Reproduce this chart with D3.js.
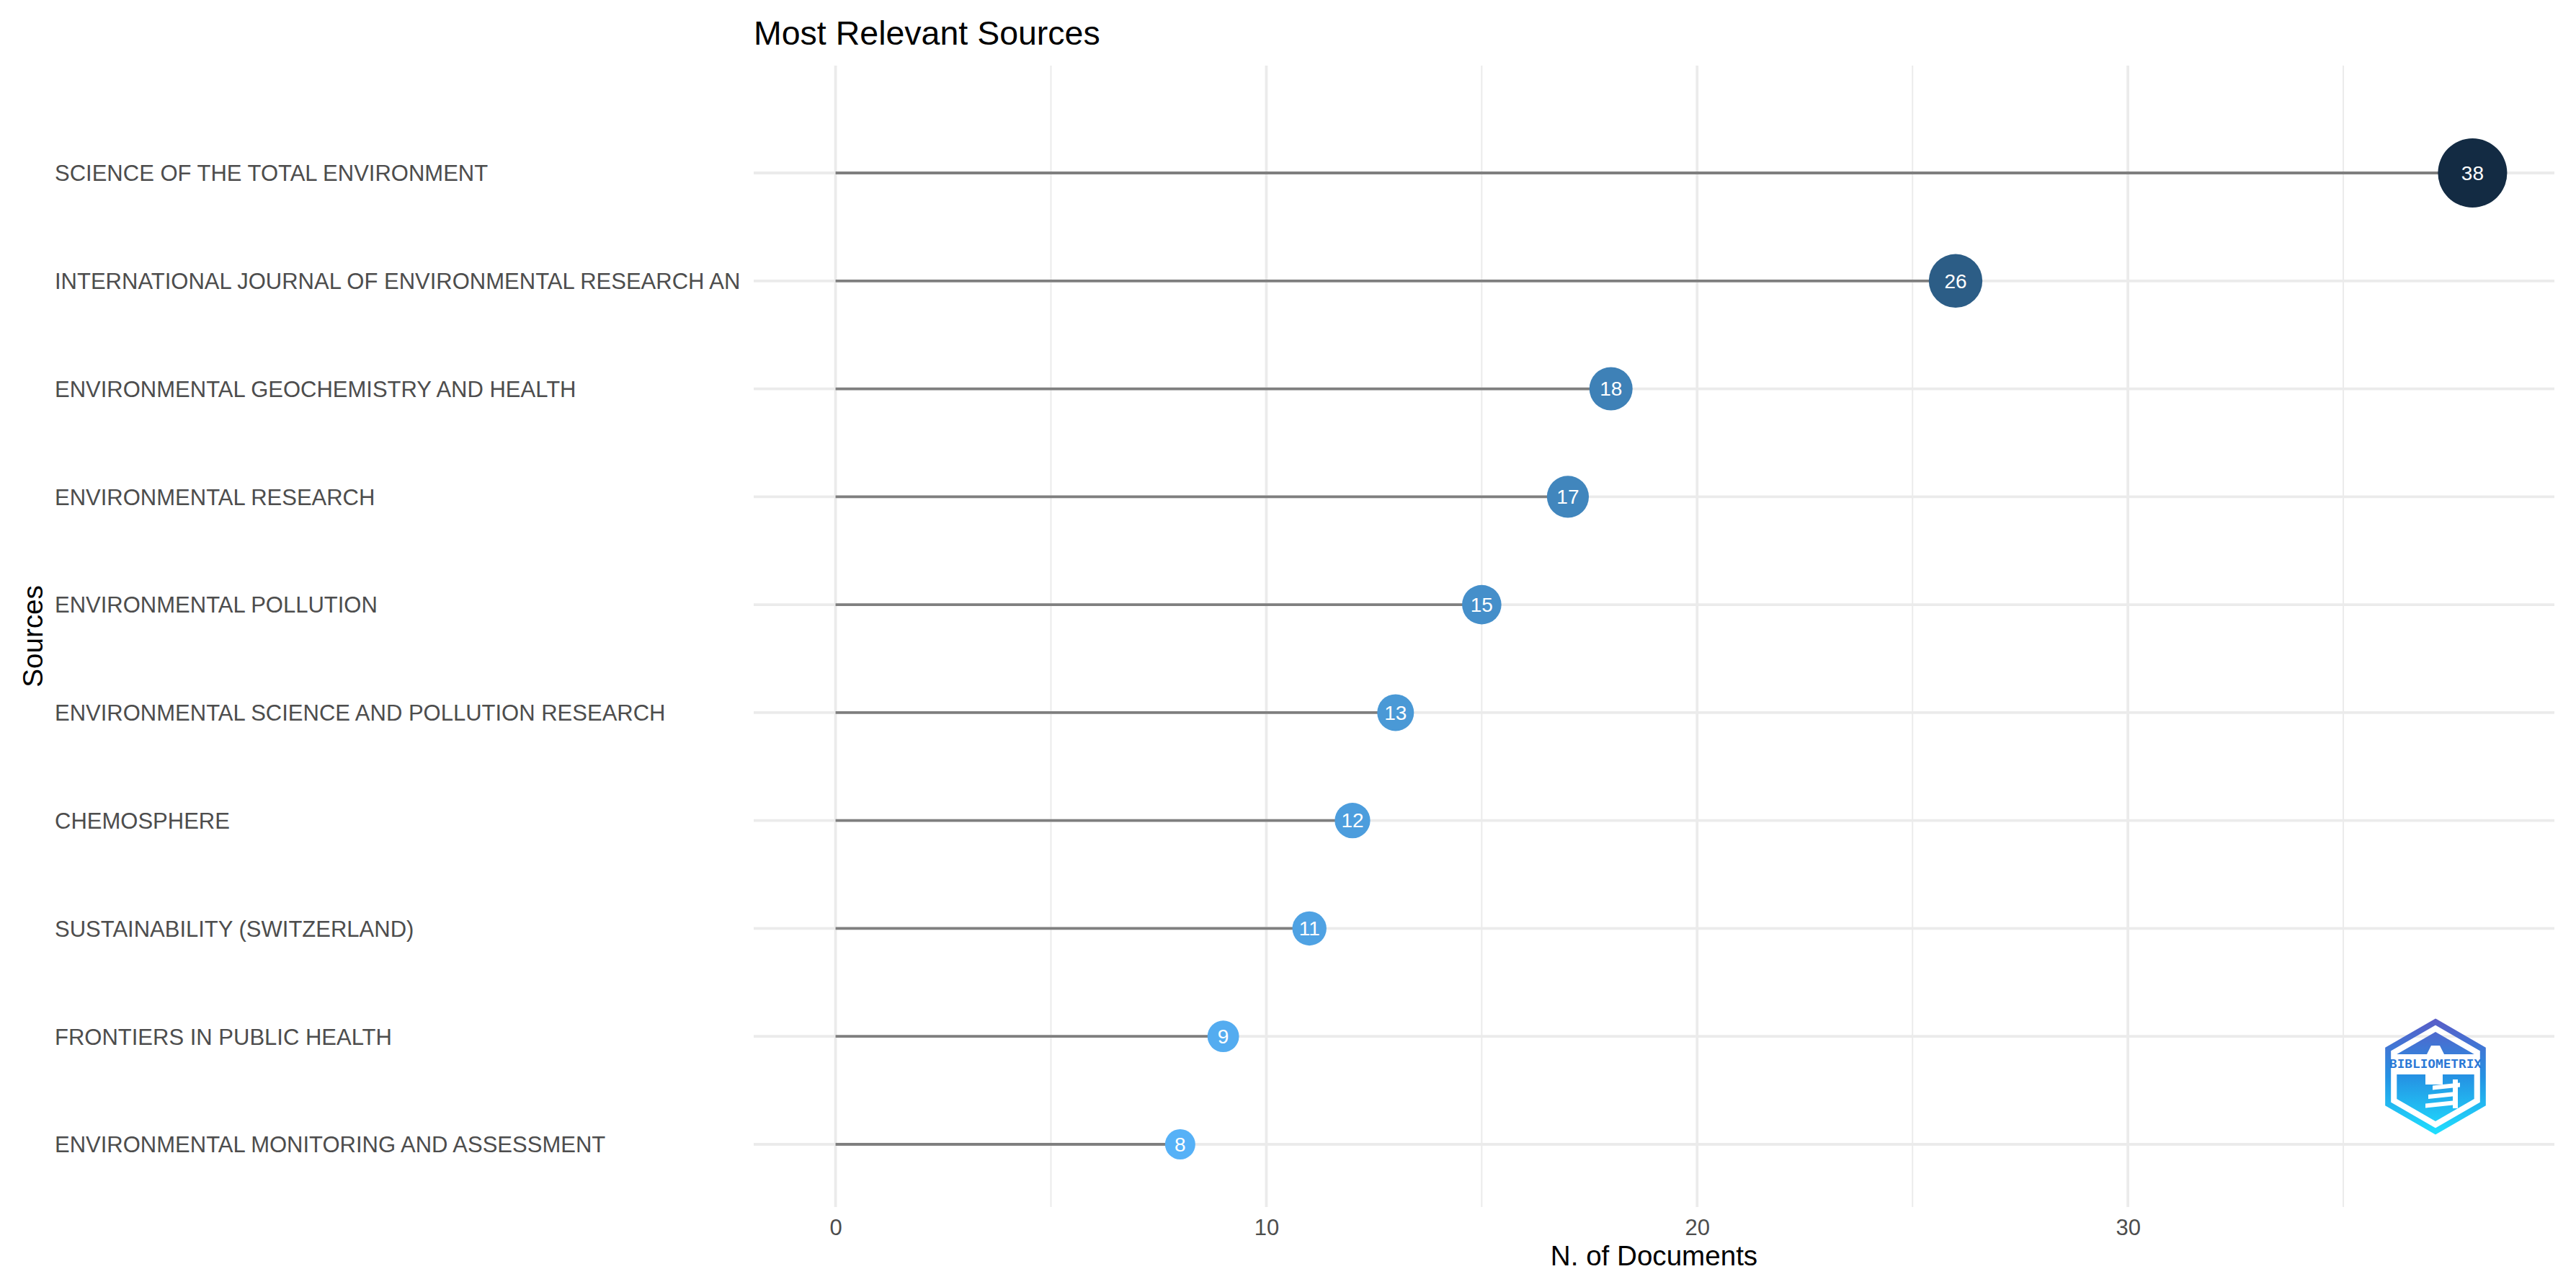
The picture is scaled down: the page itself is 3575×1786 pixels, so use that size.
<!DOCTYPE html>
<html>
<head>
<meta charset="utf-8">
<script src="https://cdn.jsdelivr.net/npm/d3@7"></script>
<style>
  html, body { margin: 0; padding: 0; background: #ffffff; }
  svg { display: block; }
  text { font-family: "Liberation Sans", Arial, Helvetica, sans-serif; }
</style>
</head>
<body>
<script>
// ---- data ----
const sources = [
  "SCIENCE OF THE TOTAL ENVIRONMENT",
  "INTERNATIONAL JOURNAL OF ENVIRONMENTAL RESEARCH AN",
  "ENVIRONMENTAL GEOCHEMISTRY AND HEALTH",
  "ENVIRONMENTAL RESEARCH",
  "ENVIRONMENTAL POLLUTION",
  "ENVIRONMENTAL SCIENCE AND POLLUTION RESEARCH",
  "CHEMOSPHERE",
  "SUSTAINABILITY (SWITZERLAND)",
  "FRONTIERS IN PUBLIC HEALTH",
  "ENVIRONMENTAL MONITORING AND ASSESSMENT"
];
const documents = [38, 26, 18, 17, 15, 13, 12, 11, 9, 8];
const xMajorTicks = [0, 10, 20, 30];
const xMinorTicks = [5, 15, 25, 35];
const titleText = "Most Relevant Sources";
const xTitle = "N. of Documents";
const yTitle = "Sources";

// ---- layout ----
const W = 3575, H = 1786;
const panel = { left: 1046, right: 3545, top: 91, bottom: 1675 };

const svg = d3.select("body").append("svg")
  .attr("width", W).attr("height", H)
  .attr("viewBox", `0 0 ${W} ${H}`);

svg.append("rect").attr("width", W).attr("height", H).attr("fill", "#ffffff");

const maxV = d3.max(documents), minV = d3.min(documents);
const pad = maxV * 0.05;
const x = d3.scaleLinear().domain([-pad, maxV + pad]).range([panel.left, panel.right]);
const y = d3.scalePoint().domain(sources).range([240, 1588]);
const r = d3.scaleLinear().domain([minV, maxV]).range([21, 48]);
const color = d3.scaleLinear().domain([minV, maxV])
  .range(["#56B1F7", "#132B43"]).interpolate(d3.interpolateLab);

const data = sources.map((s, i) => ({ source: s, value: documents[i] }));

// ---- grid ----
const grid = svg.append("g");
grid.selectAll("line.minor").data(xMinorTicks).join("line")
  .attr("x1", d => x(d)).attr("x2", d => x(d))
  .attr("y1", panel.top).attr("y2", panel.bottom)
  .attr("stroke", "#ebebeb").attr("stroke-width", 2);
grid.selectAll("line.majx").data(xMajorTicks).join("line")
  .attr("x1", d => x(d)).attr("x2", d => x(d))
  .attr("y1", panel.top).attr("y2", panel.bottom)
  .attr("stroke", "#ebebeb").attr("stroke-width", 3.8);
grid.selectAll("line.majy").data(sources).join("line")
  .attr("x1", panel.left).attr("x2", panel.right)
  .attr("y1", d => y(d)).attr("y2", d => y(d))
  .attr("stroke", "#ebebeb").attr("stroke-width", 3.8);

// ---- x axis ----
const xAxis = d3.axisBottom(x).tickValues(xMajorTicks).tickSize(0).tickPadding(0);
const gx = svg.append("g").attr("transform", `translate(0,${panel.bottom})`).call(xAxis);
gx.select(".domain").remove();
gx.selectAll("text")
  .attr("y", 39).attr("dy", 0)
  .attr("fill", "#4d4d4d")
  .style("font-size", "31px")
  .style("font-family", '"Liberation Sans", Arial, sans-serif');

// ---- y axis labels (left aligned) ----
const yAxis = d3.axisLeft(y).tickSize(0).tickPadding(0);
const gy = svg.append("g").attr("transform", `translate(76,0)`).call(yAxis);
gy.select(".domain").remove();
gy.selectAll("text")
  .attr("x", 0).attr("dy", "0.35em")
  .attr("text-anchor", "start")
  .attr("fill", "#4d4d4d")
  .style("font-size", "31px")
  .style("font-family", '"Liberation Sans", Arial, sans-serif');

// ---- segments ----
svg.append("g").selectAll("line").data(data).join("line")
  .attr("x1", x(0)).attr("x2", d => x(d.value))
  .attr("y1", d => y(d.source)).attr("y2", d => y(d.source))
  .attr("stroke", "#7f7f7f").attr("stroke-width", 3.8);

// ---- points ----
svg.append("g").selectAll("circle").data(data).join("circle")
  .attr("cx", d => x(d.value)).attr("cy", d => y(d.source))
  .attr("r", d => r(d.value))
  .attr("fill", d => color(d.value));

svg.append("g").selectAll("text").data(data).join("text")
  .attr("x", d => x(d.value)).attr("y", d => y(d.source))
  .attr("dy", "0.35em")
  .attr("text-anchor", "middle")
  .attr("fill", "#ffffff")
  .style("font-size", "28px")
  .text(d => d.value);

// ---- titles ----
svg.append("text").attr("x", panel.left).attr("y", 62)
  .attr("fill", "#000000").style("font-size", "46.5px").text(titleText);

svg.append("text").attr("x", (panel.left + panel.right) / 2).attr("y", 1756)
  .attr("text-anchor", "middle").attr("fill", "#000000")
  .style("font-size", "38.6px").text(xTitle);

svg.append("text")
  .attr("transform", `translate(59,${(panel.top + panel.bottom) / 2}) rotate(-90)`)
  .attr("text-anchor", "middle").attr("fill", "#000000")
  .style("font-size", "38.6px").text(yTitle);

// ---- bibliometrix logo ----
const defs = svg.append("defs");
const grad = defs.append("linearGradient").attr("id", "logoGrad")
  .attr("gradientUnits", "userSpaceOnUse")
  .attr("x1", 0).attr("y1", -80).attr("x2", 0).attr("y2", 80);
grad.append("stop").attr("offset", 0).attr("stop-color", "#5a5cc7");
grad.append("stop").attr("offset", 0.5).attr("stop-color", "#2592e3");
grad.append("stop").attr("offset", 1).attr("stop-color", "#1fe0ff");

function hexPts(R) {
  return d3.range(6).map(i => {
    const a = (-90 + 60 * i) * Math.PI / 180;
    return [R * Math.cos(a), R * Math.sin(a)];
  });
}
const logo = svg.append("g").attr("transform", "translate(3380,1494)");
logo.append("polygon").attr("points", hexPts(76).map(p => p.join(",")).join(" "))
  .attr("fill", "none").attr("stroke", "url(#logoGrad)").attr("stroke-width", 8);
const inner = hexPts(62);
const sx = inner[1][0];
// roof (top triangle)
logo.append("polygon").attr("points", [[0, -62], [sx, -31], [-sx, -31]].map(p => p.join(",")).join(" "))
  .attr("fill", "url(#logoGrad)");
// lower body
logo.append("polygon").attr("points", [[-sx, -3], [sx, -3], [sx, 31], [0, 62], [-sx, 31]].map(p => p.join(",")).join(" "))
  .attr("fill", "url(#logoGrad)");
// white figure
logo.append("polygon").attr("points", "-6,-43 6,-43 12,-31 -12,-31").attr("fill", "#ffffff");
logo.append("rect").attr("x", -14).attr("y", -3).attr("width", 24).attr("height", 14).attr("fill", "#ffffff");
[[-4, 12], [-10, 24], [-14, 36]].forEach(([x0, yy]) => {
  logo.append("rect").attr("x", x0).attr("y", yy).attr("width", 38).attr("height", 6)
    .attr("fill", "#ffffff").attr("transform", "skewY(-6)");
});
logo.append("rect").attr("x", 24).attr("y", 4).attr("width", 7).attr("height", 40).attr("fill", "#ffffff");
logo.append("text").attr("x", 0).attr("y", -12)
  .attr("text-anchor", "middle").attr("fill", "#2a78d6")
  .attr("textLength", 128).attr("lengthAdjust", "spacingAndGlyphs")
  .style("font-family", '"DejaVu Sans Mono", monospace')
  .style("font-weight", "bold").style("font-size", "15px")
  .text("BIBLIOMETRIX");
</script>
</body>
</html>
